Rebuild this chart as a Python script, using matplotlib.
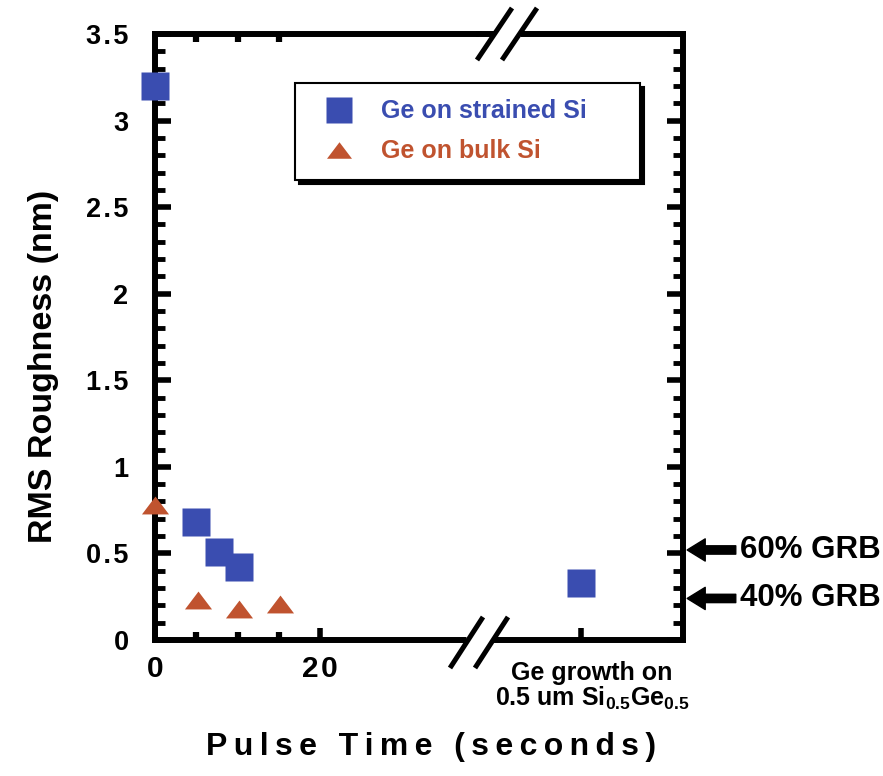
import matplotlib
matplotlib.use('Agg')
import matplotlib.pyplot as plt
from matplotlib.lines import Line2D
from matplotlib.transforms import ScaledTranslation
from matplotlib.ticker import FixedLocator, FixedFormatter, MultipleLocator, NullFormatter

plt.rcParams['font.family'] = ['Liberation Sans', 'DejaVu Sans']
plt.rcParams['font.weight'] = 'bold'
plt.rcParams['mathtext.fontset'] = 'custom'
plt.rcParams['mathtext.rm'] = 'Liberation Sans:bold'
plt.rcParams['mathtext.it'] = 'Liberation Sans:bold'
plt.rcParams['mathtext.bf'] = 'Liberation Sans:bold'
plt.rcParams['mathtext.default'] = 'rm'

# ---------------- data ----------------
series_names = ['Ge on strained Si', 'Ge on bulk Si']
strained_time = [0, 5, 7.7, 10.2]
strained_rms = [3.2, 0.68, 0.51, 0.42]
bulk_time = [0, 5.2, 10.2, 15.2]
bulk_rms = [0.78, 0.23, 0.18, 0.21]
sige_category = ['Ge growth on\n0.5 um Si$_{0.5}$Ge$_{0.5}$']
sige_rms = [0.33]
grb_labels = ['60% GRB', '40% GRB']
grb_values = [0.52, 0.24]
y_ticks = [0, 0.5, 1, 1.5, 2, 2.5, 3, 3.5]
y_tick_labels = ['0', '0.5', '1', '1.5', '2', '2.5', '3', '3.5']
x_ticks = [0, 20]
x_tick_labels = ['0', '20']
x_minor_ticks = [5, 10, 15]

BLUE = '#3A4DB0'
RED = '#C0532F'
W, H = 883, 776
THIN = '\u2009'
HAIR = '\u200a'

fig = plt.figure(figsize=(W / 100, H / 100), dpi=100)

def fx(x):
    return x / W

def fy(y):
    return 1 - y / H

left_px, right_px, brk_px, top_px, bot_px = 155, 683, 479, 34, 640
axL = fig.add_axes([fx(left_px), fy(bot_px), (brk_px - left_px) / W, (bot_px - top_px) / H])
axR = fig.add_axes([fx(brk_px), fy(bot_px), (right_px - brk_px) / W, (bot_px - top_px) / H])

px_per_unit = 8.25
axL.set_xlim(0, (brk_px - left_px) / px_per_unit)
axL.set_ylim(0, 3.5)
axR.set_xlim(-1, 1)
axR.set_ylim(0, 3.5)

for ax in (axL, axR):
    for s in ax.spines.values():
        s.set_linewidth(4.3)
        s.set_capstyle('projecting')
axL.spines['right'].set_visible(False)
axR.spines['left'].set_visible(False)

tri = [(-1, -0.66), (1, -0.66), (0, 0.66)]

# markers
axL.plot(strained_time, strained_rms, linestyle='none', marker='s', ms=20, mfc=BLUE, mec='none',
         clip_on=False, zorder=10)
axL.plot(bulk_time, bulk_rms, linestyle='none', marker=tri, ms=19.5, mfc=RED, mec='none',
         clip_on=False, zorder=10)
axR.plot(range(len(sige_rms)), sige_rms, linestyle='none', marker='s', ms=20, mfc=BLUE, mec='none',
         clip_on=False, zorder=10)

# left axes ticks
axL.yaxis.set_major_locator(FixedLocator(y_ticks))
axL.yaxis.set_major_formatter(FixedFormatter([HAIR.join(list(t)) for t in y_tick_labels]))
axL.yaxis.set_minor_locator(MultipleLocator(0.1))
axL.xaxis.set_major_locator(FixedLocator(x_ticks))
axL.xaxis.set_major_formatter(FixedFormatter([HAIR.join(list(t)) for t in x_tick_labels]))
axL.xaxis.set_minor_locator(FixedLocator(x_minor_ticks))
axL.tick_params(axis='y', which='major', direction='in', length=11.5, width=4, labelsize=19.5, pad=19)
axL.tick_params(axis='y', which='minor', direction='in', length=7, width=3.5)
axL.tick_params(axis='x', which='major', direction='in', length=9, width=4, labelsize=21.5, pad=11)
axL.tick_params(axis='x', which='minor', direction='in', length=6, width=4.5, top=True)
axL.tick_params(axis='x', which='major', top=False)

# right axes ticks
axR.yaxis.tick_right()
axR.yaxis.set_major_locator(FixedLocator(y_ticks))
axR.yaxis.set_minor_locator(MultipleLocator(0.1))
axR.yaxis.set_major_formatter(NullFormatter())
axR.tick_params(axis='y', which='major', direction='in', length=11.5, width=4, right=True, left=False)
axR.tick_params(axis='y', which='minor', direction='in', length=7, width=3.5, right=True, left=False)
axR.xaxis.set_major_locator(FixedLocator(range(len(sige_category))))
axR.xaxis.set_major_formatter(FixedFormatter(sige_category))
axR.tick_params(axis='x', which='major', direction='in', length=9, width=4, labelsize=18, pad=15)
for lab in axR.get_xticklabels():
    lab.set_linespacing(1.0)
    lab.set_transform(lab.get_transform() + ScaledTranslation(8 / 72, 0, fig.dpi_scale_trans))

# axis labels
axL.set_ylabel('RMS Roughness (nm)', fontsize=24.5, fontweight='bold')
axL.yaxis.set_label_coords(-0.295, 0.452)
xlabel = THIN.join(list('Pulse Time (seconds)'))
fig.text(fx(431), fy(755), xlabel, fontsize=23, fontweight='bold', ha='center', va='baseline')

# legend
handles = [
    Line2D([], [], linestyle='none', marker='s', ms=19, mfc=BLUE, mec='none'),
    Line2D([], [], linestyle='none', marker=tri, ms=18, mfc=RED, mec='none'),
]
leg = fig.legend(handles, series_names, loc='upper left',
                 bbox_to_anchor=(fx(295), fy(178), (640 - 295) / W, (178 - 83) / H),
                 bbox_transform=fig.transFigure, mode='expand', borderaxespad=0,
                 prop={'size': 18, 'weight': 'bold'}, labelcolor=[BLUE, RED],
                 fancybox=False, framealpha=1, edgecolor='black', borderpad=0.65,
                 handlelength=2.2, handletextpad=0.6, labelspacing=0.65,
                 shadow={'color': 'black', 'alpha': 1, 'ox': 3, 'oy': -3})
leg.get_frame().set_linewidth(1.5)
leg.set_zorder(20)

# GRB arrows
for lab, val in zip(grb_labels, grb_values):
    axR.annotate(lab, xy=(1.0, val), xycoords=('axes fraction', 'data'),
                 xytext=(41, 0), textcoords='offset points', ha='left', va='center',
                 fontsize=22.5, fontweight='bold', annotation_clip=False,
                 arrowprops=dict(arrowstyle='simple,head_length=13,head_width=16,tail_width=6',
                                 mutation_scale=1, color='black', shrinkA=1, shrinkB=3))

# axis break marks
def line(x0, y0, x1, y1, color, lw):
    fig.add_artist(Line2D([fx(x0), fx(x1)], [fy(y0), fy(y1)], transform=fig.transFigure,
                          color=color, lw=lw, solid_capstyle='butt', zorder=30))

line(466, bot_px, 492, bot_px, 'white', 8)
line(450, 668, 483, 617, 'black', 3.6)
line(475, 668, 508, 617, 'black', 3.6)
line(494, top_px, 520, top_px, 'white', 8)
line(477, 60, 512, 8, 'black', 3.6)
line(502, 60, 537, 8, 'black', 3.6)

fig.savefig('out.png', dpi=100)
